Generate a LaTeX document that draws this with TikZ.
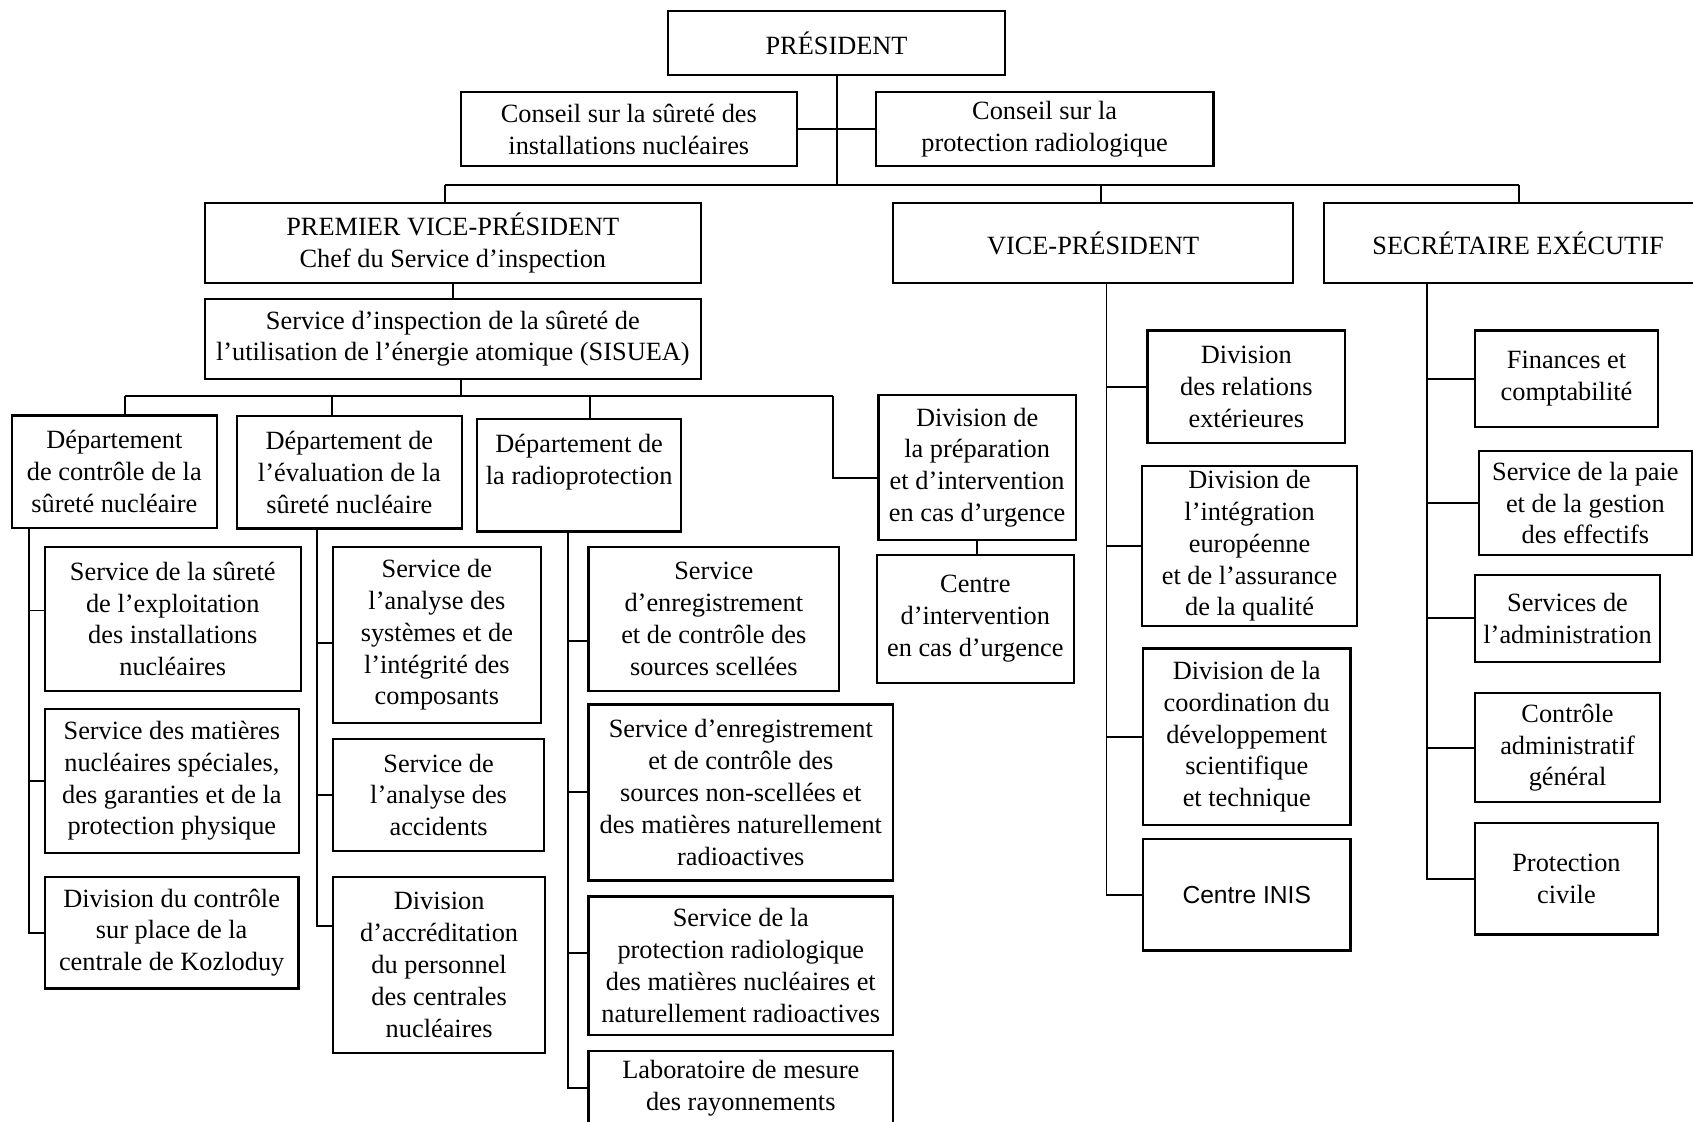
\documentclass[tikz,border=0pt]{standalone}
\usepackage{fontspec}
\setmainfont{Liberation Serif}
\newfontfamily\inisfont{Liberation Sans}
\usepackage{tikz}

\begin{document}
\begin{tikzpicture}[x=0.0216cm,y=-0.0216cm,line width=1.1pt,
    box/.style={draw, rectangle, line width=1.3pt, align=center, inner sep=0pt,
      font=\fontsize{15}{18.1}\selectfont},
    sz/.style 2 args={minimum width=#1*0.0216cm, minimum height=#2*0.0216cm}]
          \useasboundingbox (0,0) rectangle (1568,1039);

          % Nodes
          \node[box, sz={311.6}{59.6}] (pres) at (774.8,39.7) {PRÉSIDENT};
          \node[box, sz={311.3}{68.4}] (csa) at (582.4,119.6) {Conseil sur la sûreté des\\installations nucléaires};
          \node[box, sz={312.6}{68.4}] (csb) at (967.5,119.6) {Conseil sur la\\protection radiologique};
          \node[box, sz={459.2}{74.4}] (pvp) at (419.4,225.1) {PREMIER VICE-PRÉSIDENT\\Chef du Service d’inspection};
          \node[box, sz={370.5}{74.4}] (vp) at (1012.4,225.1) {VICE-PRÉSIDENT};
          \node[box, sz={359}{74.4}] (sec) at (1406,225.1) {SECRÉTAIRE EXÉCUTIF};
          \node[box, sz={459.2}{74.1}] (sisuea) at (419.4,313.7) {Service d’inspection de la sûreté de\\l’utilisation de l’énergie atomique (SISUEA)};

          \node[box, sz={189.8}{104.3}] (dep1) at (105.9,436.9) {Département\\de contrôle de la\\sûreté nucléaire};
          \node[box, sz={208.3}{104.2}] (dep2) at (323.6,437.5) {Département de\\l’évaluation de la\\sûreté nucléaire};
          \node[box, sz={189.2}{104.5}] (dep3) at (536.4,440) {Département de\\la radioprotection\\\mbox{}};
          \node[box, sz={182.7}{134.3}] (prep) at (905,433) {Division de\\la préparation\\et d’intervention\\en cas d’urgence};
          \node[box, sz={182.2}{118.6}] (centre) at (903.3,573.2) {Centre\\d’intervention\\en cas d’urgence};

          \node[box, sz={237.1}{133.8}] (s11) at (160,573.2) {Service de la sûreté\\de l’exploitation\\des installations\\nucléaires};
          \node[box, sz={235.5}{133.3}] (s12) at (159.2,723.2) {Service des matières\\nucléaires spéciales,\\des garanties et de la\\protection physique};
          \node[box, sz={235}{103.5}] (s13) at (159,863.7) {Division du contrôle\\sur place de la\\centrale de Kozloduy};

          \node[box, sz={192.5}{163.4}] (s21) at (404.6,588) {Service de\\l’analyse des\\systèmes et de\\l’intégrité des\\composants};
          \node[box, sz={195.6}{103.5}] (s22) at (406.2,736.1) {Service de\\l’analyse des\\accidents};
          \node[box, sz={196.7}{163.3}] (s23) at (406.7,893.6) {Division\\d’accréditation\\du personnel\\des centrales\\nucléaires};

          \node[box, sz={232.3}{133.8}] (s31) at (661.1,573.2) {Service\\d’enregistrement\\et de contrôle des\\sources scellées};
          \node[box, sz={282.3}{163}] (s32) at (686.1,733.9) {Service d’enregistrement\\et de contrôle des\\sources non-scellées et\\des matières naturellement\\radioactives};
          \node[box, sz={282.3}{128.2}] (s33) at (686.1,894.3) {Service de la\\protection radiologique\\des matières nucléaires et\\naturellement radioactives};
          \node[box, sz={282.3}{69.2}] (s34) at (686.1,1008) {Laboratoire de mesure\\des rayonnements};

          \node[box, sz={183.3}{104.2}] (vp1) at (1154.3,358.1) {Division\\des relations\\extérieures};
          \node[box, sz={199.1}{147.8}] (vp2) at (1157.3,505.6) {Division de\\l’intégration\\européenne\\et de l’assurance\\de la qualité};
          \node[box, sz={192.2}{163.7}] (vp3) at (1154.7,682.4) {Division de la\\coordination du\\développement\\scientifique\\et technique};
          \node[box, sz={192.2}{103.4}, font=\inisfont\fontsize{14}{17}\selectfont] (vp4) at (1154.7,828.6) {Centre INIS};

          \node[box, sz={169.7}{89.3}] (se1) at (1450.8,350.7) {Finances et\\comptabilité};
          \node[box, sz={197}{96.3}] (se2) at (1468.3,465.9) {Service de la paie\\et de la gestion\\des effectifs};
          \node[box, sz={171.7}{80.2}] (se3) at (1451.8,572.7) {Services de\\l’administration};
          \node[box, sz={171.7}{100.8}] (se4) at (1451.8,692.5) {Contrôle\\administratif\\général};
          \node[box, sz={169.7}{103.4}] (se5) at (1450.8,813.9) {Protection\\civile};

          % Junctions
          \coordinate (busL) at (412,171.4);
          \coordinate (busV) at (1019.8,171.4);
          \coordinate (busR) at (1407.2,171.4);
          \coordinate (sbL) at (115.5,367);
          \coordinate (sbM) at (426.7,367);
          \coordinate (sb2) at (307.7,367);
          \coordinate (sb3) at (546.2,367);
          \coordinate (sbR) at (771.8,367);
          \coordinate (jprep) at (813.7,443);
          \coordinate (c1) at (26.6,489);
          \coordinate (c2) at (294,489.6);
          \coordinate (c3) at (526.4,492.2);
          \coordinate (c4) at (1024.8,262.3);
          \coordinate (c5) at (1321.6,262.3);

          % Lines
          \draw (pres) -- (pres |- busL);
          \draw (csa) -- (csb);
          \draw (busL) -- (busR);
          \draw (busL) -- (busL |- pvp.north);
          \draw (busV) -- (busV |- vp.north);
          \draw (busR) -- (busR |- sec.north);
          \draw (pvp) -- (sisuea);

          \draw (sbM) -- (sbM |- sisuea.south);
          \draw (sbL) -- (sbR);
          \draw (sbL) -- (sbL |- dep1.north);
          \draw (sb2) -- (sb2 |- dep2.north);
          \draw (sb3) -- (sb3 |- dep3.north);
          \draw (sbR) |- (jprep);
          \draw (prep.south) -- (prep.south |- centre.north);

          \draw (c1) |- ([yshift=4.8pt]s11.west);
          \draw (c1) |- (s12.west);
          \draw (c1) |- (s13.west);
          \draw (c2) |- ([yshift=-4.5pt]s21.west);
          \draw (c2) |- (s22.west);
          \draw (c2) |- ([yshift=22.1pt]s23.west);
          \draw (c3) |- ([yshift=-12.6pt]s31.west);
          \draw (c3) |- (s32.west);
          \draw (c3) |- ([yshift=7pt]s33.west);
          \draw (c3) |- (s34.west);

          \draw (c4) |- (vp1.west);
          \draw (c4) |- (vp2.west);
          \draw (c4) |- (vp3.west);
          \draw (c4) |- (vp4.west);

          \draw (c5) |- (se1.west);
          \draw (c5) |- (se2.west);
          \draw (c5) |- (se3.west);
          \draw (c5) |- (se4.west);
          \draw (c5) |- (se5.west);
        \end{tikzpicture}
\end{document}
